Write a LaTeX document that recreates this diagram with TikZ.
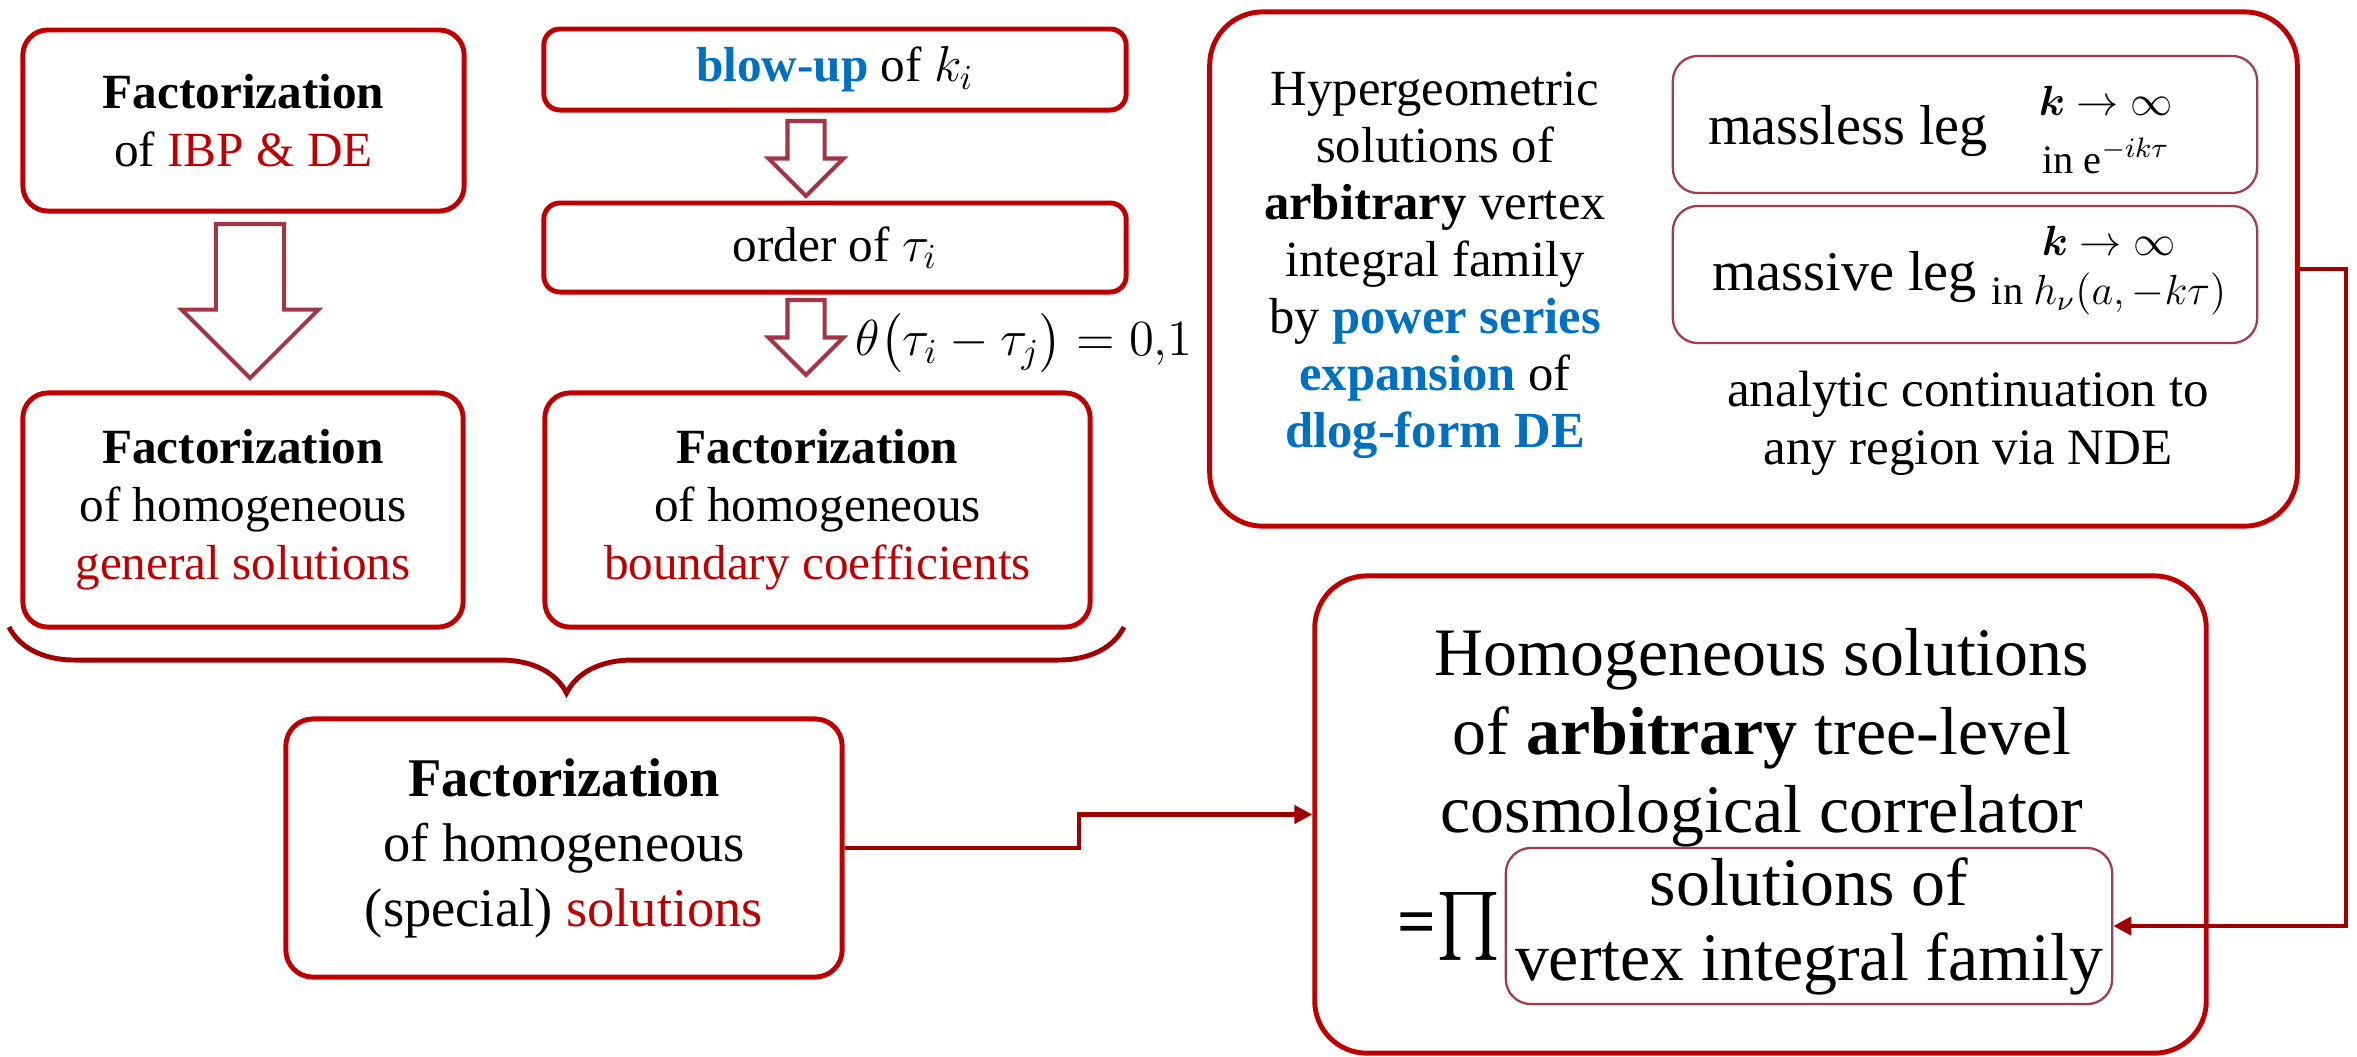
\documentclass[tikz,border=0pt]{standalone}
\usepackage{amsmath,amssymb}
\usepackage{fontspec}
\setmainfont{Liberation Serif}
\usetikzlibrary{shapes.arrows, arrows.meta, decorations.pathreplacing}
\definecolor{boxRed}{HTML}{C00000}
\definecolor{thinStroke}{HTML}{A83A4E}
\definecolor{arrowStroke}{HTML}{A23647}
\definecolor{linkRed}{HTML}{A00000}
\definecolor{blueT}{HTML}{0070C0}
\definecolor{redT}{HTML}{C00000}

\begin{document}
\begin{tikzpicture}[
    x=0.01cm, y=-0.01cm,
    font=\fontsize{14}{16.5}\selectfont,
    redbox/.style={
        rectangle, rounded corners=0.25cm,
        draw=boxRed, line width=1.4pt,
        align=center, inner sep=0pt
    },
    thinbox/.style={
        rectangle, rounded corners=0.25cm,
        draw=thinStroke, line width=0.65pt,
        align=center, inner sep=0pt
    },
    hollow/.style={
        single arrow, draw=arrowStroke, fill=white,
        line width=1.15pt, shape border rotate=270,
        single arrow tip angle=90,
        outer sep=0pt, anchor=tail
    },
    link/.style={draw=linkRed, line width=1.4pt},
    linkarrow/.style={
        link, -{Triangle[length=0.18cm,width=0.18cm]}
    }
]
    \useasboundingbox (0,0) rectangle (2357,1056);

    % left part
    \node[redbox, minimum width=4.41cm, minimum height=1.81cm] (ibp) at (243.5,120.5)
        {\textbf{Factorization}\\ of \textcolor{redT}{IBP \& DE}};
    \node[redbox, minimum width=4.40cm, minimum height=2.34cm] (gensol) at (243,510)
        {\textbf{Factorization}\\ of homogeneous\\ \textcolor{redT}{general solutions}};
    \node[hollow, inner sep=0.32cm, minimum height=1.54cm, minimum width=1.33cm,
        single arrow head extend=0.345cm] (bigarrow) at (250,224) {};

    \node[redbox, rounded corners=0.16cm, minimum width=5.82cm, minimum height=0.81cm] (blowup) at (835,69.5)
        {\textcolor{blueT}{\textbf{blow-up}} of $k_i$};
    \node[redbox, rounded corners=0.16cm, minimum width=5.82cm, minimum height=0.89cm] (order) at (835,247.5)
        {order of $\tau_i$};
    \node[redbox, minimum width=5.45cm, minimum height=2.34cm] (bdry) at (817.5,510)
        {\textbf{Factorization}\\ of homogeneous\\ \textcolor{redT}{boundary coefficients}};
    \node[hollow, inner sep=0.165cm, minimum height=0.75cm, minimum width=0.71cm,
        single arrow head extend=0.19cm] (arrowA) at (806,121) {};
    \node[hollow, inner sep=0.165cm, minimum height=0.75cm, minimum width=0.71cm,
        single arrow head extend=0.19cm] (arrowB) at (806,300) {};
    \node[anchor=west, inner sep=0pt] (theta) at (855,343)
        {$\theta\bigl(\tau_i-\tau_j\bigr)=0{,}1$};

    \coordinate (braceL) at (9,627);
    \coordinate (braceR) at (1124,627);
    \draw[link, decorate, decoration={brace, mirror, amplitude=0.66cm}] (braceL) -- (braceR);

    \node[redbox, rounded corners=0.27cm, minimum width=5.56cm, minimum height=2.58cm,
        font=\fontsize{15.5}{18.5}\selectfont] (special) at (564,848)
        {\textbf{Factorization}\\ of homogeneous\\ (special) \textcolor{redT}{solutions}};

    % right top part
    \node[redbox, rounded corners=0.53cm, minimum width=10.87cm, minimum height=5.14cm] (hyper) at (1753.5,269) {};
    \node[align=center, font=\fontsize{14.4}{16.2}\selectfont] (hypertext) at (1435,265)
        {Hypergeometric\\ solutions of\\ \textbf{arbitrary} vertex\\ integral family\\
         by \textcolor{blueT}{\textbf{power series}}\\ \textcolor{blueT}{\textbf{expansion}} of\\
         \textcolor{blueT}{\textbf{dlog-form DE}}};
    \node[thinbox, minimum width=5.84cm, minimum height=1.37cm] (massless) at (1965,124.5) {};
    \node[font=\fontsize{16}{18}\selectfont] (mllabel) at (1848,131) {massless leg};
    \node[font=\fontsize{13}{15}\selectfont] (mlk) at (2106,101) {$\boldsymbol{k}\to\infty$};
    \node[font=\fontsize{11.5}{13}\selectfont] (mlin) at (2106,156) {in e$^{-ik\tau}$};
    \node[thinbox, minimum width=5.84cm, minimum height=1.37cm] (massive) at (1965,274.5) {};
    \node[font=\fontsize{16}{18}\selectfont] (mvlabel) at (1845,277) {massive leg};
    \node[font=\fontsize{13}{15}\selectfont] (mvk) at (2109,241) {$\boldsymbol{k}\to\infty$};
    \node[font=\fontsize{11.5}{13}\selectfont] (mvin) at (2109,294) {in $h_\nu(a,-k\tau)$};
    \node[align=center, font=\fontsize{14.5}{16.5}\selectfont] (nde) at (1968,423)
        {analytic continuation to\\ any region via NDE};

    % right bottom part
    \node[redbox, rounded corners=0.52cm, minimum width=8.91cm, minimum height=4.77cm] (corr) at (1760.5,814.5) {};
    \node[align=center, font=\fontsize{19.3}{22.3}\selectfont] (corrtext) at (1762,738)
        {Homogeneous solutions\\ of \textbf{arbitrary} tree-level\\ cosmological correlator};
    \node[thinbox, minimum width=6.06cm, minimum height=1.56cm,
        font=\fontsize{19.3}{21.3}\selectfont] (vfam) at (1809,926)
        {solutions of\\ vertex integral family};
    \node[anchor=east, inner sep=1pt, font=\fontsize{19.3}{22}\selectfont] (prodsign) at (vfam.west)
        {\textbf{=}$\prod$};

    % connectors
    \coordinate (turnL) at (1079,848);
    \coordinate (turnR) at (2346,269);
    \draw[linkarrow] (special.east) -- (turnL) |- (corr.west);
    \draw[linkarrow] (hyper.east) -- (turnR) |- (vfam.east);
\end{tikzpicture}
\end{document}
